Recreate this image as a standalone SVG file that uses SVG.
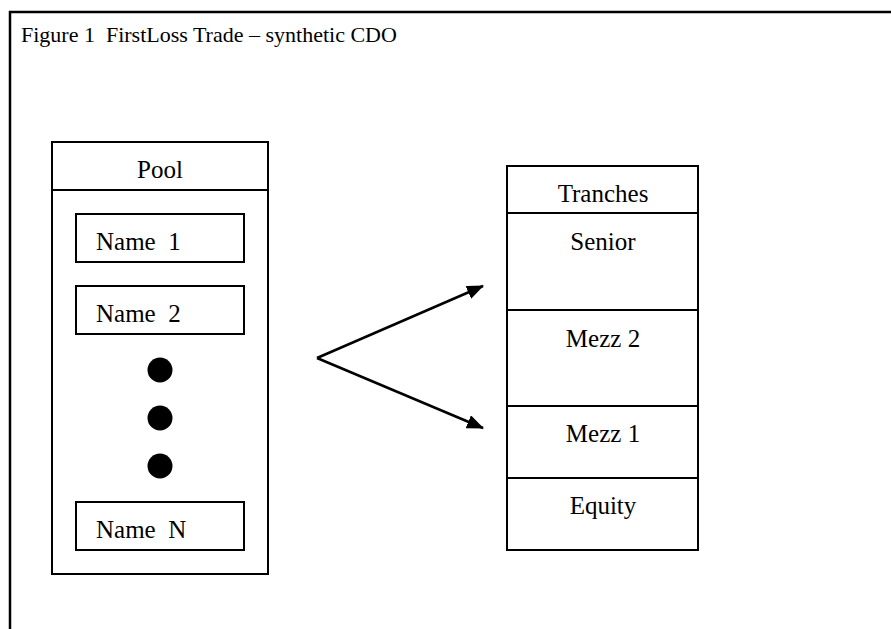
<svg xmlns="http://www.w3.org/2000/svg" width="891" height="629" viewBox="0 0 891 629">
<defs>
<style>
.t{font-family:"Liberation Serif","Times New Roman",serif;font-size:25px;fill:#000}
.title{font-family:"Liberation Serif","Times New Roman",serif;font-size:22px;fill:#000}
.box{fill:#fff;stroke:#000;stroke-width:2}
.ln{stroke:#000;stroke-width:2;fill:none}
.arr{stroke:#000;stroke-width:2.5;fill:none}
</style>
<marker id="ah" markerWidth="17" markerHeight="14" refX="16" refY="7" orient="auto" markerUnits="userSpaceOnUse">
<path d="M0,0 L17,7 L0,14 Z" fill="#000"/>
</marker>
</defs>
<rect width="891" height="629" fill="#fff"/>
<g id="frame">
<rect x="10" y="12" width="900" height="700" fill="none" stroke="#000" stroke-width="2.5"/>
<text class="title" x="21" y="42" xml:space="preserve">Figure 1  FirstLoss Trade – synthetic CDO</text>
</g>
<g id="pool">
<rect class="box" x="52" y="142" width="216" height="432"/>
<line class="ln" x1="52" y1="190" x2="268" y2="190"/>
<text class="t" x="160" y="178" text-anchor="middle">Pool</text>
</g>
<g id="name1">
<rect class="box" x="76" y="214" width="168" height="48"/>
<text class="t" x="96" y="250" xml:space="preserve">Name  1</text>
</g>
<g id="name2">
<rect class="box" x="76" y="286" width="168" height="48"/>
<text class="t" x="96" y="322" xml:space="preserve">Name  2</text>
</g>
<g id="dots">
<circle cx="160" cy="370" r="12.5" fill="#000"/>
<circle cx="160" cy="418" r="12.5" fill="#000"/>
<circle cx="160" cy="466" r="12.5" fill="#000"/>
</g>
<g id="nameN">
<rect class="box" x="76" y="502" width="168" height="48"/>
<text class="t" x="96" y="538" xml:space="preserve">Name  N</text>
</g>
<g id="tranches">
<rect class="box" x="507" y="166" width="191" height="384"/>
<line class="ln" x1="507" y1="213" x2="698" y2="213"/>
<text class="t" x="603" y="202" text-anchor="middle">Tranches</text>
</g>
<g id="senior">
<text class="t" x="603" y="250" text-anchor="middle">Senior</text>
</g>
<g id="mezz2">
<line class="ln" x1="507" y1="310" x2="698" y2="310"/>
<text class="t" x="603" y="347" text-anchor="middle">Mezz 2</text>
</g>
<g id="mezz1">
<line class="ln" x1="507" y1="406" x2="698" y2="406"/>
<text class="t" x="603" y="442" text-anchor="middle">Mezz 1</text>
</g>
<g id="equity">
<line class="ln" x1="507" y1="478" x2="698" y2="478"/>
<text class="t" x="603" y="514" text-anchor="middle">Equity</text>
</g>
<g id="connectors">
<line class="arr" x1="317" y1="358" x2="483" y2="286" marker-end="url(#ah)"/>
<line class="arr" x1="317" y1="358" x2="483" y2="428" marker-end="url(#ah)"/>
</g>
</svg>
